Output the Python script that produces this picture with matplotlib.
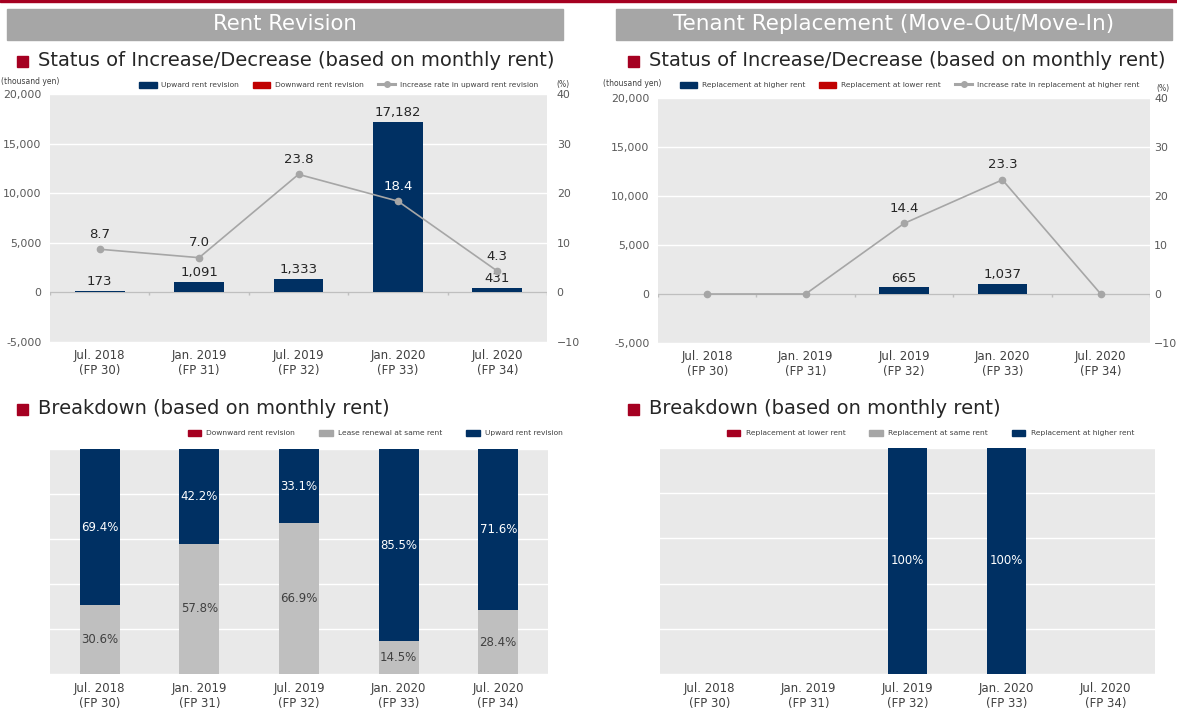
import matplotlib.pyplot as plt
import numpy as np
from matplotlib.lines import Line2D
from matplotlib.patches import Patch, Rectangle
from matplotlib.ticker import FuncFormatter

W, H = 1177, 713

periods = ["Jul. 2018\n(FP 30)", "Jan. 2019\n(FP 31)", "Jul. 2019\n(FP 32)",
           "Jan. 2020\n(FP 33)", "Jul. 2020\n(FP 34)"]

# rent revision: amounts in thousand yen, rate in %
rev_up = [173, 1091, 1333, 17182, 431]
rev_down = [0, 0, 0, 0, 0]
rev_rate = [8.7, 7.0, 23.8, 18.4, 4.3]

# tenant replacement
rep_higher = [0, 0, 665, 1037, 0]
rep_lower = [0, 0, 0, 0, 0]
rep_rate = [0.0, 0.0, 14.4, 23.3, 0.0]

# breakdown shares (%)
rev_share_down = [0, 0, 0, 0, 0]
rev_share_same = [30.6, 57.8, 66.9, 14.5, 28.4]
rev_share_up = [69.4, 42.2, 33.1, 85.5, 71.6]

rep_share_lower = [0, 0, 0, 0, 0]
rep_share_same = [0, 0, 0, 0, 0]
rep_share_higher = [0, 0, 100, 100, 0]

NAVY = "#003063"
RED = "#c00000"
CRIMSON = "#a50021"
SILVER = "#bfbfbf"
LINE = "#a6a6a6"
BG = "#e9e9e9"
TXT = "#262626"
TICK = "#595959"

plt.rcParams["font.family"] = ["DejaVu Sans"]

fig = plt.figure(figsize=(W / 100, H / 100), dpi=100)


def box(l, t, r, b):
    return [l / W, 1 - b / H, (r - l) / W, (b - t) / H]


def fx(px):
    return px / W


def fy(py):
    return 1 - py / H


def header(l, r, text, size):
    fig.patches.append(Rectangle((fx(l), fy(40)), (r - l) / W, 31 / H,
                                 transform=fig.transFigure, color="#a6a6a6"))
    fig.text(fx((l + r) / 2), fy(24), text, color="white", fontsize=size,
             ha="center", va="center")


def section(x, y, text):
    fig.patches.append(Rectangle((fx(x), fy(y + 6)), 11 / W, 11 / H,
                                 transform=fig.transFigure, color=CRIMSON))
    fig.text(fx(x + 21), fy(y), text, color=TXT, fontsize=14,
             ha="left", va="center")


def status_chart(rect, up, down, rate, names, legend_right, unit_pos, pct_pos, rpad):
    ax = fig.add_axes(box(*rect))
    ax.set_facecolor(BG)
    x = np.arange(len(periods))
    ax.bar(x, up, width=0.5, color=NAVY, zorder=2)
    ax.bar(x, [-d for d in down], width=0.5, color=RED, zorder=2)
    ax.set_xlim(-0.5, len(periods) - 0.5)
    ax.set_ylim(-5000, 20000)
    ax.set_yticks(range(-5000, 20001, 5000))
    ax.yaxis.set_major_formatter(FuncFormatter(lambda v, p: f"{v:,.0f}"))
    ax.grid(axis="y", color="white", lw=1)
    ax.set_axisbelow(True)
    ax.axhline(0, color=SILVER, lw=1, zorder=1.5)
    ax.vlines(np.arange(-0.5, len(periods)), -300, 0, color=SILVER, lw=1, zorder=1.5)
    ax.set_xticks(x, periods)
    ax.tick_params(axis="x", length=0, pad=5, labelsize=8.5, labelcolor="#404040")
    ax.tick_params(axis="y", length=0, pad=6, labelsize=7.9, labelcolor=TICK)
    for s in ax.spines.values():
        s.set_visible(False)
    for i, v in enumerate(up):
        if v:
            ax.annotate(f"{v:,}", (i, v), xytext=(0, 2), textcoords="offset points",
                        ha="center", va="bottom", fontsize=9.5, color=TXT)

    ax2 = ax.twinx()
    ax2.plot(x, rate, color=LINE, lw=1.2, marker="o", ms=4.5, zorder=3)
    ax2.set_ylim(-10, 40)
    ax2.set_yticks(range(-10, 41, 10))
    ax2.tick_params(axis="y", length=0, pad=rpad, labelsize=7.9, labelcolor=TICK)
    for s in ax2.spines.values():
        s.set_visible(False)
    for i, r in enumerate(rate):
        if r:
            inside = r * 500 < up[i]
            ax2.annotate(f"{r:.1f}", (i, r), xytext=(0, 6), textcoords="offset points",
                         ha="center", va="bottom", fontsize=9.5,
                         color="white" if inside else TXT)

    handles = [Patch(color=NAVY), Patch(color=RED),
               Line2D([], [], color=LINE, lw=2.2, marker="o", ms=4)]
    ax.legend(handles, names, loc="center right",
              bbox_to_anchor=(fx(legend_right), fy(85)), bbox_transform=fig.transFigure,
              ncol=3, frameon=False, fontsize=5.4, borderaxespad=0, borderpad=0,
              columnspacing=1.9, handlelength=2.3, handleheight=0.8,
              handletextpad=0.6, labelcolor="#404040")
    fig.text(fx(unit_pos[0]), fy(unit_pos[1]), "(thousand yen)", fontsize=5.5,
             color="#404040", ha="left", va="center")
    fig.text(fx(pct_pos[0]), fy(pct_pos[1]), "(%)", fontsize=5.5,
             color="#404040", ha="left", va="center")


def breakdown_chart(rect, low, same, high, names, legend_right):
    ax = fig.add_axes(box(*rect))
    ax.set_facecolor(BG)
    x = np.arange(len(periods))
    mid = np.add(low, same)
    ax.bar(x, low, width=0.4, color=CRIMSON, zorder=2)
    ax.bar(x, same, width=0.4, bottom=low, color=SILVER, zorder=2)
    ax.bar(x, high, width=0.4, bottom=mid, color=NAVY, zorder=2)
    ax.set_xlim(-0.5, len(periods) - 0.5)
    ax.set_ylim(0, 100)
    ax.set_yticks(range(0, 101, 20))
    ax.set_yticklabels([])
    ax.grid(axis="y", color="white", lw=1)
    ax.set_axisbelow(True)
    ax.set_xticks(x, periods)
    ax.tick_params(axis="x", length=0, pad=6, labelsize=8.5, labelcolor="#404040")
    ax.tick_params(axis="y", length=0)
    for s in ax.spines.values():
        s.set_visible(False)
    for i in x:
        for base, v, col in ((0, low[i], "white"), (low[i], same[i], "#404040"),
                             (mid[i], high[i], "white")):
            if v:
                ax.text(i, base + v / 2, f"{v:g}%", ha="center", va="center",
                        fontsize=8.5, color=col, zorder=3)

    handles = [Patch(color=CRIMSON), Patch(color="#a6a6a6"), Patch(color=NAVY)]
    ax.legend(handles, names, loc="center right",
              bbox_to_anchor=(fx(legend_right), fy(433)), bbox_transform=fig.transFigure,
              ncol=3, frameon=False, fontsize=5.4, borderaxespad=0, borderpad=0,
              columnspacing=3.2, handlelength=1.8, handleheight=0.8,
              handletextpad=0.7, labelcolor="#404040")


# top accent line
fig.patches.append(Rectangle((0, fy(2)), 1, 2 / H, transform=fig.transFigure,
                             color=CRIMSON))

header(7, 563, "Rent Revision", 15.3)
header(616, 1172, "Tenant Replacement (Move-Out/Move-In)", 15.5)

section(17, 61, "Status of Increase/Decrease (based on monthly rent)")
section(628, 61, "Status of Increase/Decrease (based on monthly rent)")
section(17, 409, "Breakdown (based on monthly rent)")
section(628, 409, "Breakdown (based on monthly rent)")

status_chart((50, 94, 547, 342), rev_up, rev_down, rev_rate,
             ["Upward rent revision", "Downward rent revision",
              "Increase rate in upward rent revision"],
             538, (1, 82), (556, 84), 7)
status_chart((658, 98, 1150, 343), rep_higher, rep_lower, rep_rate,
             ["Replacement at higher rent", "Replacement at lower rent",
              "Increase rate in replacement at higher rent"],
             1139, (603, 84), (1156, 89), 3)

breakdown_chart((50, 449, 548, 674), rev_share_down, rev_share_same, rev_share_up,
                ["Downward rent revision", "Lease renewal at same rent",
                 "Upward rent revision"], 563)
breakdown_chart((660, 448, 1155, 674), rep_share_lower, rep_share_same, rep_share_higher,
                ["Replacement at lower rent", "Replacement at same rent",
                 "Replacement at higher rent"], 1134)

fig.savefig("out.png", dpi=100)
